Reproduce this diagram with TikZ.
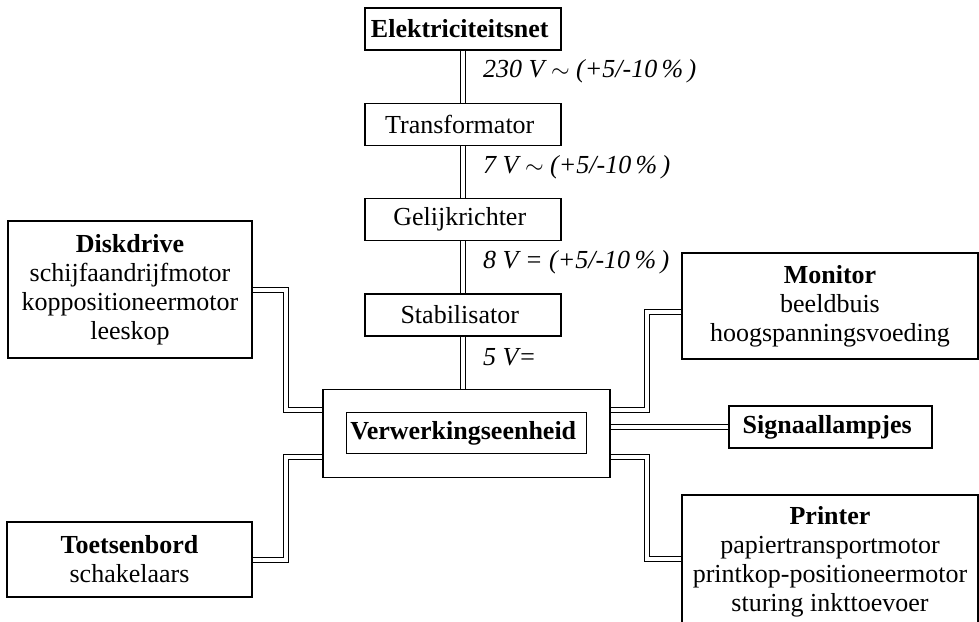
\documentclass[tikz,border=0pt]{standalone}
\usepackage{fontspec}
\setmainfont{Liberation Serif}
\usepackage{tikz}
\usetikzlibrary{positioning}

\begin{document}
\begin{tikzpicture}[x=0.5pt,y=-0.5pt,
    font=\fontsize{13}{14.5}\selectfont,
    line width=0.65pt,
    node distance=26pt,
    box/.style={draw, align=center, inner sep=2pt},
    stage/.style={box, minimum width=98pt, minimum height=21pt},
    bus/.style={double, double distance=2pt, line width=0.5pt},
    volt/.style={right=6.5pt, pos=0.4, font=\fontsize{13}{14.5}\selectfont\itshape}
]
\useasboundingbox (0,0) rectangle (979,621);

\node[stage] (block1) at (463,29) { \textbf{Elektriciteitsnet} };
\node[stage, below=of block1] (block2) { Transformator };
\node[stage, below=of block2] (block3) { Gelijkrichter };
\node[stage, below=of block3] (block4) { Stabilisator };

\node[draw,
    below=of block4,
    xshift=1.75pt,
    minimum width=143.5pt,
    minimum height=44pt
] (blockC) {};
\node[box,
    minimum width=120pt,
    minimum height=20.5pt
] (blockV) at (blockC) { \textbf{Verwerkingseenheid} };

\node[box,
    minimum width=122pt,
    minimum height=68.5pt
] (blockD) at (130,289.5) { \textbf{Diskdrive}\\schijfaandrijfmotor\\koppositioneermotor\\leeskop };

\node[box,
    minimum width=122.5pt,
    minimum height=37.5pt
] (blockT) at (129.5,559.5) { \textbf{Toetsenbord}\\schakelaars };

\node[box,
    minimum width=148pt,
    minimum height=53pt
] (blockM) at (830,306) { \textbf{Monitor}\\beeldbuis\\hoogspanningsvoeding };

\node[box,
    minimum width=101.5pt,
    minimum height=21pt
] (blockS) at (830.5,427) { \textbf{Signaallampjes} };

\node[box,
    minimum width=148pt,
    minimum height=67pt
] (blockP) at (830,562) { \textbf{Printer}\\papiertransportmotor\\printkop-positioneermotor\\sturing inkttoevoer };

% supply chain
\draw[bus] (block1) -- (block2) node[volt] { 230 V $\sim$ (+5/-10\,\%\,) };
\draw[bus] (block2) -- (block3) node[volt] { 7 V $\sim$ (+5/-10\,\%\,) };
\draw[bus] (block3) -- (block4) node[volt] { 8 V = (+5/-10\,\%\,) };
\draw[bus] (block4) -- (block4.south |- blockC.north) node[volt] { 5 V= };

% bends next to the processing unit
\coordinate (jl1) at ([xshift=-18pt,yshift=-10.5pt]blockC.north west);
\coordinate (jl2) at ([xshift=-18pt,yshift=10.5pt]blockC.south west);
\coordinate (jr1) at ([xshift=18pt,yshift=-10.5pt]blockC.north east);
\coordinate (jr2) at ([xshift=18pt,yshift=10.5pt]blockC.south east);

\draw[bus] (blockD.east) -| (jl1) -- (jl1 -| blockC.west);
\draw[bus] (blockT.east) -| (jl2) -- (jl2 -| blockC.west);
\draw[bus] ([yshift=-3pt]blockM.west) -| (jr1) -- (jr1 -| blockC.east);
\draw[bus] (blockS.west) -- (blockS.west -| blockC.east);
\draw[bus] ([yshift=1.5pt]blockP.west) -| (jr2) -- (jr2 -| blockC.east);

\end{tikzpicture}
\end{document}
